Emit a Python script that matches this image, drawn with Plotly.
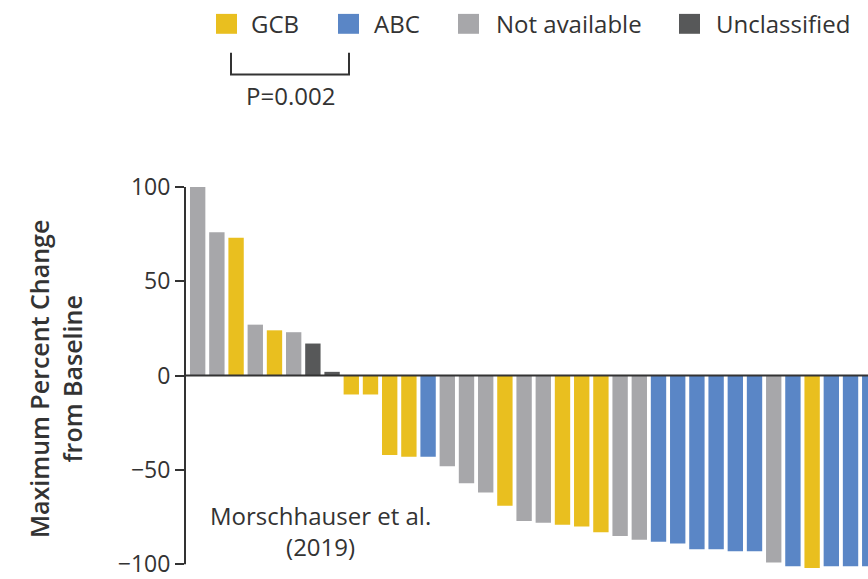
import plotly.graph_objects as go

# ---- data ----
patients = list(range(36))
change = [100, 76, 73, 27, 24, 23, 17, 2, -10, -10, -42, -43, -43, -48, -57, -62,
          -69, -77, -78, -79, -80, -83, -85, -87, -88, -89, -92, -92, -93, -93,
          -99, -101, -102, -101, -101, -101]
subtype = ["NA", "NA", "GCB", "NA", "GCB", "NA", "UNC", "UNC", "GCB", "GCB", "GCB", "GCB",
           "ABC", "NA", "NA", "NA", "GCB", "NA", "NA", "GCB", "GCB", "GCB", "NA", "NA",
           "ABC", "ABC", "ABC", "ABC", "ABC", "ABC", "NA", "ABC", "GCB", "ABC", "ABC", "ABC"]
legend_keys = ["GCB", "ABC", "NA", "UNC"]
legend_labels = ["GCB", "ABC", "Not available", "Unclassified"]
tick_vals = [100, 50, 0, -50, -100]
tick_text = ["100", "50", "0", "\u221250", "\u2212100"]

colors = {"GCB": "#E9BF1F", "ABC": "#5A86C6", "NA": "#A7A7AA", "UNC": "#575859"}
TXT = "#333333"
FONT = "Open Sans"

W, H = 868, 579
ML, MR, MT, MB = 185, 0, 185, 7
PW, PH = W - ML - MR, H - MT - MB


def px(x):
    return (x - ML) / PW


def py(y):
    return (H - MB - y) / PH


fig = go.Figure()
for k in legend_keys:
    xs = [p for p, s in zip(patients, subtype) if s == k]
    ys = [c for c, s in zip(change, subtype) if s == k]
    fig.add_trace(go.Bar(x=xs, y=ys, marker=dict(color=colors[k], line=dict(width=0)),
                         width=0.8, showlegend=False, name=k))

shapes = []
# y axis line (from -100 to 100)
shapes.append(dict(type="line", xref="paper", yref="y", x0=0, x1=0, y0=-100, y1=100,
                   line=dict(color=TXT, width=2), layer="above"))
# zero line
shapes.append(dict(type="line", xref="paper", yref="y", x0=0, x1=1, y0=0, y1=0,
                   line=dict(color=TXT, width=2), layer="above"))

annotations = []
# manual legend
sq_left = [216, 338, 458, 679]
txt_left = [249, 372, 494, 714]
for k, lab, sx, tx in zip(legend_keys, legend_labels, sq_left, txt_left):
    shapes.append(dict(type="rect", xref="paper", yref="paper",
                       x0=px(sx), x1=px(sx + 21), y0=py(33), y1=py(13),
                       fillcolor=colors[k], line=dict(width=0)))
    annotations.append(dict(text=lab, xref="paper", yref="paper", x=px(tx), y=py(23),
                            xanchor="left", yanchor="middle", showarrow=False,
                            font=dict(family=FONT, size=24, color=TXT)))

# bracket
shapes.append(dict(type="path", xref="paper", yref="paper",
                   path=f"M {px(231)} {py(52)} L {px(231)} {py(74)} L {px(349)} {py(74)} L {px(349)} {py(52)}",
                   line=dict(color=TXT, width=2)))
annotations.append(dict(text="P=0.002", xref="paper", yref="paper", x=px(290), y=py(95),
                        xanchor="center", yanchor="middle", showarrow=False,
                        font=dict(family=FONT, size=24, color=TXT)))

annotations.append(dict(text="Morschhauser et al.<br>(2019)", xref="paper", yref="paper",
                        x=px(320), y=py(533), xanchor="center", yanchor="middle",
                        showarrow=False, align="center",
                        font=dict(family=FONT, size=24, color=TXT)))

annotations.append(dict(text="Maximum Percent Change<br>from Baseline", xref="paper", yref="paper",
                        x=px(56), y=py(380), xanchor="center", yanchor="middle",
                        textangle=-90, showarrow=False, align="center",
                        font=dict(family=FONT, size=25, color=TXT, weight=600)))

fig.update_layout(
    width=W, height=H,
    margin=dict(l=ML, r=MR, t=MT, b=MB, pad=0),
    paper_bgcolor="white", plot_bgcolor="white",
    bargap=0.2,
    shapes=shapes, annotations=annotations,
    xaxis=dict(range=[-0.66, 34.91], showticklabels=False, ticks="", showgrid=False,
               zeroline=False, showline=False),
    yaxis=dict(range=[-103, 101], tickvals=tick_vals, ticktext=tick_text, ticks="outside",
               ticklen=9, tickwidth=2, tickcolor=TXT, showgrid=False, zeroline=False,
               showline=False, ticklabeloverflow="allow",
               tickfont=dict(family=FONT, size=23, color=TXT)),
)

fig.write_html("out.html")
